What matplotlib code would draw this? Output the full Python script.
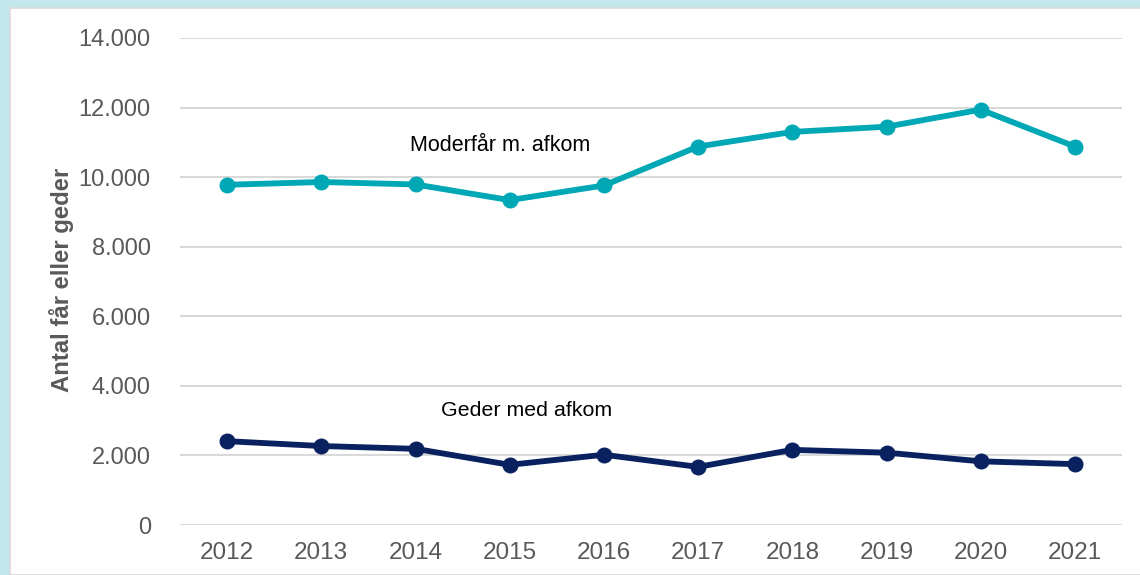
#Line chart: ewes and goats with offspring per year

import matplotlib.pyplot as plt
from matplotlib.patches import Rectangle
from matplotlib.ticker import FuncFormatter

plt.rcParams['font.family'] = ['Liberation Sans', 'DejaVu Sans']

years = ["2012", "2013", "2014", "2015", "2016", "2017", "2018", "2019", "2020", "2021"]
moderfaar = [9780, 9860, 9790, 9340, 9760, 10880, 11300, 11450, 11940, 10880]
geder = [2410, 2270, 2190, 1730, 2020, 1670, 2160, 2080, 1830, 1750]
yticks = [0, 2000, 4000, 6000, 8000, 10000, 12000, 14000]

teal = "#00A7B5"
navy = "#0A2160"
grey = "#595959"

fig = plt.figure(figsize=(11.4, 5.75), dpi=100)
fig.patch.set_facecolor("#C2E8EE")
# white panel inside the light blue frame
fig.patches.append(Rectangle((10/1140, 0), 1.0, 1 - 8/575, transform=fig.transFigure,
                             facecolor="white", edgecolor="#D9D9D9", linewidth=1.2, zorder=-5))

ax = fig.add_axes([180/1140, 1 - 525/575, (1122 - 180)/1140, (525 - 38)/575])
ax.set_facecolor("none")

x = range(len(years))
ax.plot(x, moderfaar, color=teal, linewidth=4.2, marker="o", markersize=10.5, zorder=3)
ax.plot(x, geder, color=navy, linewidth=4.2, marker="o", markersize=10.5, zorder=3)

ax.set_xlim(-0.5, len(years) - 0.5)
ax.set_ylim(0, 14000)
ax.set_xticks(list(x))
ax.set_xticklabels(years)
ax.set_yticks(yticks)
ax.yaxis.set_major_formatter(FuncFormatter(lambda v, p: f"{int(v):,}".replace(",", ".")))
ax.tick_params(axis="both", length=0, labelcolor=grey)
ax.tick_params(axis="y", pad=21, labelsize=17)
ax.tick_params(axis="x", pad=12, labelsize=17.5)
ax.grid(axis="y", color="#D9D9D9", linewidth=1.5, zorder=0)
ax.set_axisbelow(True)
for s in ax.spines.values():
        s.set_visible(False)

ax.set_ylabel("Antal får eller geder", fontsize=17.2, fontweight="bold", color=grey)
ax.yaxis.set_label_coords(-0.112, 0.503)

ax.text(2.9, 10900, "Moderfår m. afkom", fontsize=15.5, color="black", ha="center", va="center")
ax.text(3.18, 3280, "Geder med afkom", fontsize=15.4, color="black", ha="center", va="center")

fig.savefig("out.png", dpi=100, facecolor=fig.get_facecolor())
